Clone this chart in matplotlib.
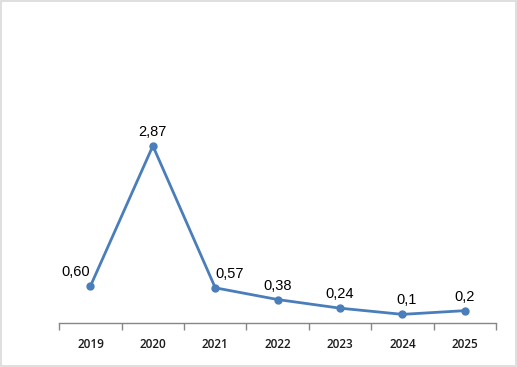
import matplotlib
matplotlib.use("Agg")
import matplotlib.pyplot as plt
from matplotlib.patches import Rectangle
import numpy as np

years = ["2019", "2020", "2021", "2022", "2023", "2024", "2025"]
values = [0.60, 2.87, 0.57, 0.38, 0.24, 0.14, 0.2]
labels = ["0,60", "2,87", "0,57", "0,38", "0,24", "0,1", "0,2"]
label_offsets = [(-11, 5), (0, 5), (10, 5), (0, 5), (0, 5), (3, 5), (0, 5)]

fig = plt.figure(figsize=(5.17, 3.67), dpi=100)
fig.patch.set_facecolor("white")
fig.patches.append(Rectangle((0.001, 0.002), 0.997, 0.996, transform=fig.transFigure,
                             fill=False, edgecolor="#D9D9D9", linewidth=1.2))

ax = fig.add_axes([0.1147, 0.1199, 0.8447, 0.5886])
x = np.arange(len(years))
color = "#4A7EBB"
ax.plot(x, values, color=color, linewidth=2.0, marker="o", markersize=5,
        markerfacecolor=color, markeredgecolor=color, solid_capstyle="round")

for xi, v, lab, off in zip(x, values, labels, label_offsets):
    ax.annotate(lab, (xi, v), xytext=off, textcoords="offset points",
                ha="center", va="bottom", fontsize=10.5, family="Liberation Sans", color="black")

ax.set_xlim(-0.5, len(years) - 0.5)
ax.set_ylim(0, 3.5)
ax.set_xticks(x)
ax.set_xticklabels(years, fontsize=8.5, fontweight="semibold", family="Open Sans", color="#1a1a1a")
ax.set_xticks(np.arange(-0.5, len(years), 1.0), minor=True)
ax.tick_params(axis="x", which="major", length=0, pad=11)
ax.tick_params(axis="x", which="minor", length=5, color="#868686", width=1)
ax.set_yticks([])
for s in ["top", "right", "left"]:
    ax.spines[s].set_visible(False)
ax.spines["bottom"].set_color("#868686")
ax.spines["bottom"].set_linewidth(1)
ax.patch.set_alpha(0)

fig.savefig("out.png", dpi=100)
